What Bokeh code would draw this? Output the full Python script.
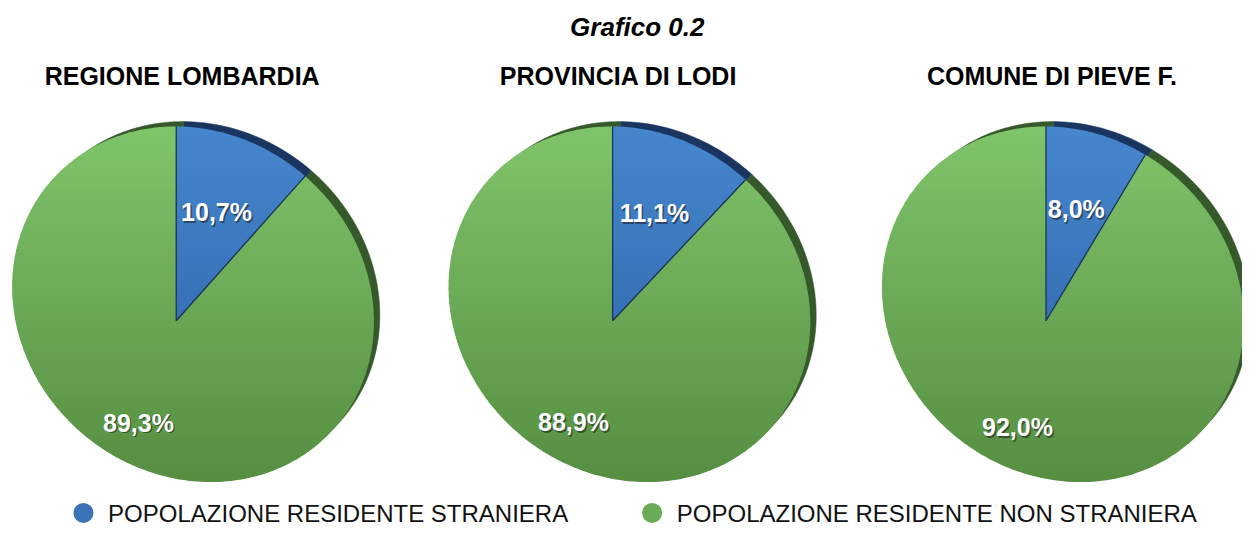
import numpy as np
from bokeh.plotting import figure
from bokeh.models import Range1d
from bokeh.core.properties import value
from bokeh.embed import file_html
from bokeh.resources import INLINE

# ---------------- data ----------------
title_text = "Grafico 0.2"
areas = ["REGIONE LOMBARDIA", "PROVINCIA DI LODI", "COMUNE DI PIEVE F."]
categories = ["POPOLAZIONE RESIDENTE STRANIERA", "POPOLAZIONE RESIDENTE NON STRANIERA"]
straniera = [10.7, 11.1, 8.0]
non_straniera = [89.3, 88.9, 92.0]

# ---------------- style ----------------
face_top = ["#4687ce", "#80c56b"]
face_bot = ["#2a5ea3", "#558d41"]
rim_col = ["#1a3660", "#35592b"]
legend_col = ["#3a73b6", "#6aab55"]
sep_col = "#1b3356"
label_frac = [0.63, 0.70]
FONT = value("Liberation Sans")

# geometry (reference pixel space 1258 x 543)
W, H = 1242, 527
REF_W, REF_H = 1258, 543
apex_x = [178, 620, 1059]
apex_y = 330
A_AX, B_AX = 192.0, 174.0
PHI = np.deg2rad(135.0)
e1 = np.array([np.cos(PHI), np.sin(PHI)])
e2 = np.array([-np.sin(PHI), np.cos(PHI)])
OFF = np.array([-17.0, -17.0])  # apex relative to ellipse centre, y-up
a_vec = np.array([OFF @ e1 / A_AX, OFF @ e2 / B_AX])
t_a = np.linalg.norm(a_vec)
d_a = a_vec / t_a
RIM_SHIFT = (7.5, -6.5)
RIM_SCALE = 1 - 1.5 / 183.0


def klein(w, t, d):
    par = w @ d
    perp = w - par[:, None] * d
    den = 1 + t * par
    return ((par + t) / den)[:, None] * d + (np.sqrt(1 - t * t) / den)[:, None] * perp


def centre(ax):
    return ax - OFF[0], apex_y + OFF[1]


def project(w, ax):
    q = klein(np.atleast_2d(w), t_a, d_a)
    up = A_AX * q[:, 0:1] * e1 + B_AX * q[:, 1:2] * e2
    cx, cy = centre(ax)
    return cx + up[:, 0], cy - up[:, 1]


# start angle: direction that maps to straight up from the apex
rel = np.array([0.0, 100.0]) + OFF
qn = np.array([[rel @ e1 / A_AX, rel @ e2 / B_AX]])
w0 = klein(qn, t_a, -d_a)[0]
BETA0 = np.arctan2(w0[0], w0[1])


def dirs(b):
    return np.column_stack([np.sin(b), np.cos(b)])


def clip(poly, y0, keep_greater):
    out = []
    n = len(poly)
    for i in range(n):
        P, Q = poly[i], poly[(i + 1) % n]
        inP = P[1] >= y0 if keep_greater else P[1] <= y0
        inQ = Q[1] >= y0 if keep_greater else Q[1] <= y0
        if inP:
            out.append(P)
        if inP != inQ:
            tt = (y0 - P[1]) / (Q[1] - P[1])
            out.append((P[0] + tt * (Q[0] - P[0]), y0))
    return out


def lerp(c0, c1, f):
    f = min(max(f, 0.0), 1.0)
    a = [int(c0[i:i + 2], 16) for i in (1, 3, 5)]
    b = [int(c1[i:i + 2], 16) for i in (1, 3, 5)]
    return "#%02x%02x%02x" % tuple(int(round(a[k] + (b[k] - a[k]) * f)) for k in range(3))


p = figure(width=W, height=H, x_range=Range1d(0, REF_W), y_range=Range1d(REF_H, 0),
           output_backend="svg", toolbar_location=None, min_border=0,
           x_axis_location=None, y_axis_location=None)
p.grid.visible = False
p.outline_line_color = None
p.background_fill_color = "white"

rim_xs, rim_ys, rim_c = [], [], []
band_xs, band_ys, band_c = [], [], []
sep_xs, sep_ys = [], []
lab_x, lab_y, lab_t = [], [], []

Y_TOP, Y_BOT = 125.0, 502.0
for i, ax in enumerate(apex_x):
    vals = [straniera[i], non_straniera[i]]
    cum = np.concatenate([[0], np.cumsum(vals)]) / np.sum(vals)
    cx, cy = centre(ax)
    polys = []
    for k in range(2):
        b0 = BETA0 + 2 * np.pi * cum[k]
        b1 = BETA0 + 2 * np.pi * cum[k + 1]
        n = max(4, int(240 * (cum[k + 1] - cum[k])))
        bb = np.linspace(b0, b1, n)
        xs, ys = project(dirs(bb), ax)
        px = np.concatenate([[ax], xs])
        py = np.concatenate([[apex_y], ys])
        polys.append((px, py))
        rim_xs.append(list(cx + (px - cx) * RIM_SCALE + RIM_SHIFT[0]))
        rim_ys.append(list(cy + (py - cy) * RIM_SCALE + RIM_SHIFT[1]))
        rim_c.append(rim_col[k])
        sx, sy = project(dirs(np.array([b0])), ax)
        sep_xs.append([ax, sx[0]])
        sep_ys.append([apex_y, sy[0]])
        bm = 0.5 * (b0 + b1)
        lx, ly = project(label_frac[k] * dirs(np.array([bm])), ax)
        lab_x.append(lx[0])
        lab_y.append(ly[0])
        lab_t.append(("%.1f%%" % vals[k]).replace(".", ","))
    step = 8.0
    y = Y_TOP - 5
    while y < Y_BOT + 5:
        f = (y + step / 2 - Y_TOP) / (Y_BOT - Y_TOP)
        for k, (px, py) in enumerate(polys):
            c = clip(list(zip(px, py)), y, True)
            if len(c) < 3:
                continue
            c = clip(c, y + step + 1.0, False)
            if len(c) < 3:
                continue
            band_xs.append([q[0] for q in c])
            band_ys.append([q[1] for q in c])
            band_c.append(lerp(face_top[k], face_bot[k], f))
        y += step

p.patches(rim_xs, rim_ys, fill_color=rim_c, line_color=rim_c, line_width=0.5)
p.patches(band_xs, band_ys, fill_color=band_c, line_color=None)
p.multi_line(sep_xs, sep_ys, line_color=sep_col, line_width=1.3)

# labels with shadow
p.text([x + 1.5 for x in lab_x], [y + 2.0 for y in lab_y], text=lab_t,
       text_font=FONT, text_font_style="bold", text_font_size="25px",
       text_color="#1a1a1a", text_alpha=0.55, text_align="center", text_baseline="middle")
p.text(lab_x, lab_y, text=lab_t, text_font=FONT, text_font_style="bold",
       text_font_size="25px", text_color="white", text_align="center", text_baseline="middle")

# title and subtitles
p.text([645], [27], text=[title_text], text_font=FONT, text_font_style="bold italic",
       text_font_size="26px", text_color="black", text_align="center", text_baseline="middle")
p.text([x + 6 for x in apex_x], [78] * 3, text=areas, text_font=FONT, text_font_style="bold",
       text_font_size="25px", text_color="black", text_align="center", text_baseline="middle")

# legend
leg_x = [84, 660]
p.scatter(leg_x, [528, 528], size=20, fill_color=legend_col, line_color=None)
p.text([x + 25 for x in leg_x], [529, 529], text=categories, text_font=FONT,
       text_font_size="24px", text_color="#111111", text_align="left", text_baseline="middle")

open("out.html", "w").write(file_html(p, INLINE))
